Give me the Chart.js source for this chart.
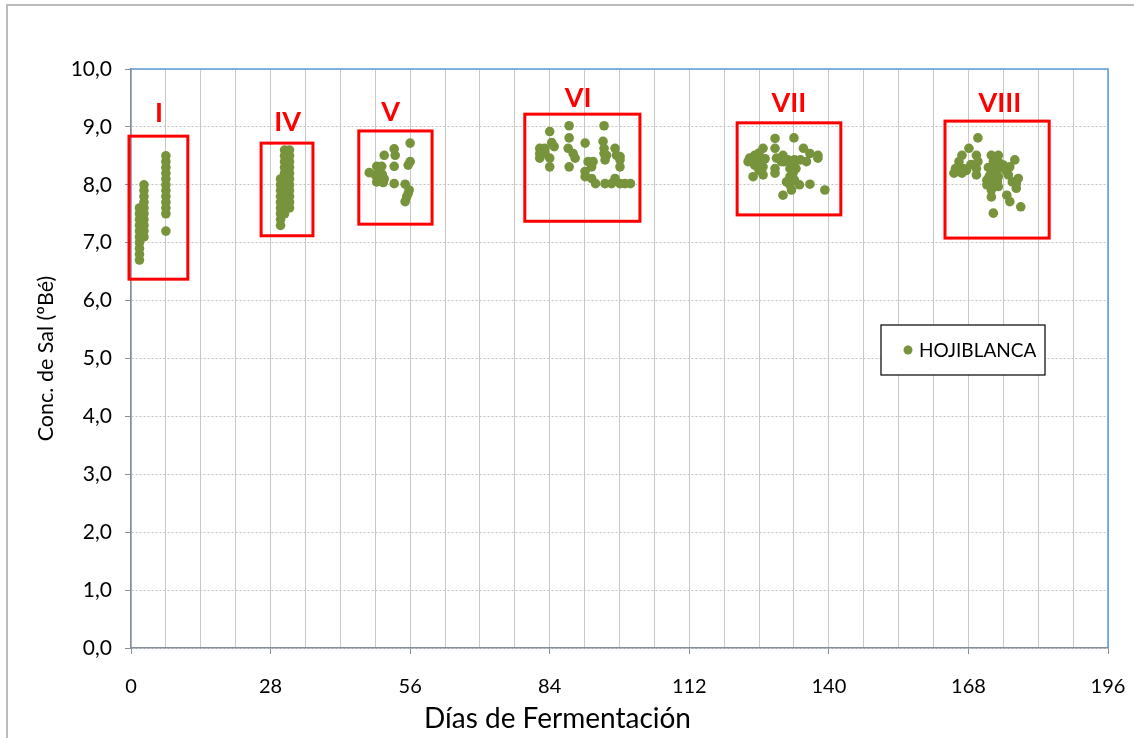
<!DOCTYPE html>
<html lang="es">
<head>
<meta charset="utf-8">
<title>Conc. de Sal - HOJIBLANCA</title>
<script src="https://cdn.jsdelivr.net/npm/chart.js@4.4.1/dist/chart.umd.min.js"></script>
<style>
  html, body { margin: 0; padding: 0; background: #ffffff; }
  #wrap { position: relative; width: 1134px; height: 738px; }
</style>
</head>
<body>
<div id="wrap"><canvas id="grafico" width="1134" height="738"></canvas></div>
<script>
// Concentración de sal (ºBé) frente a días de fermentación, por fase
const diasI = [1.7,1.7,1.7,1.7,1.7,1.7,1.7,1.7,1.7,1.7, 2.6,2.6,2.6,2.6,2.6,2.6,2.6,2.6,2.6,2.6, 7.0,7.0,7.0,7.0,7.0,7.0,7.0,7.0,7.0,7.0,7.0,7.0];
const salI  = [6.7,6.8,6.9,7.0,7.1,7.2,7.3,7.4,7.5,7.6, 7.1,7.2,7.3,7.4,7.5,7.6,7.7,7.8,7.9,8.0, 7.2,7.5,7.6,7.7,7.8,7.9,8.0,8.1,8.2,8.3,8.4,8.5];

const diasIV = [30.0,30.0,30.0,30.0,30.0,30.0,30.0,30.0,30.0, 30.8,30.8,30.8,30.8,30.8,30.8,30.8,30.8,30.8,30.8,30.8,30.8, 31.8,31.8,31.8,31.8,31.8,31.8,31.8,31.8,31.8,31.8,31.8];
const salIV  = [7.3,7.4,7.5,7.6,7.7,7.8,7.9,8.0,8.1, 7.5,7.6,7.7,7.8,7.9,8.0,8.1,8.2,8.3,8.4,8.5,8.6, 7.6,7.7,7.8,7.9,8.0,8.1,8.2,8.3,8.4,8.5,8.6];

const diasV = [56.0,50.8,52.8,53.0,56.0,55.6,52.8,49.3,50.3,47.8,49.0,50.0,49.3,50.6,52.8,55.0,55.8,55.6,55.3,55.0,49.8,50.4,50.8];
const salV  = [8.72,8.51,8.62,8.51,8.40,8.34,8.32,8.32,8.32,8.21,8.17,8.11,8.05,8.04,8.02,8.01,7.91,7.85,7.79,7.71,8.25,8.18,8.10];

const diasVI = [84.0,87.9,87.9,94.9,84.4,84.9,82.0,82.0,82.0,83.0,84.0,84.0,87.7,88.7,89.1,87.9,91.1,91.7,92.7,92.4,91.1,91.1,92.4,93.2,94.7,94.9,94.9,95.4,95.1,97.1,97.4,98.1,98.1,98.1,95.1,96.4,97.1,98.1,99.1,100.2,83.0];
const salVI  = [8.92,9.02,8.81,9.02,8.73,8.66,8.63,8.54,8.46,8.63,8.46,8.31,8.63,8.54,8.46,8.31,8.72,8.40,8.40,8.31,8.23,8.14,8.11,8.02,8.75,8.63,8.54,8.51,8.43,8.63,8.51,8.49,8.43,8.31,8.02,8.02,8.11,8.02,8.02,8.02,8.55];

const diasVII = [129.2,133.0,126.8,129.2,134.9,124.1,125.1,126.0,130.8,136.2,137.8,137.8,129.5,131.8,133.1,134.3,135.5,123.8,125.1,126.8,129.2,132.2,133.4,124.8,126.8,129.2,132.2,133.1,134.1,136.2,132.2,132.5,130.8,139.2,124.5,125.8,126.0,127.2,125.5,131.0,132.5,133.0,132.8,131.5,130.5];
const salVII  = [8.80,8.81,8.63,8.63,8.63,8.46,8.51,8.55,8.51,8.54,8.51,8.46,8.46,8.43,8.43,8.43,8.40,8.40,8.34,8.31,8.28,8.28,8.28,8.14,8.17,8.20,8.14,8.08,8.00,8.01,8.00,7.91,7.82,7.91,8.45,8.40,8.25,8.45,8.50,8.40,8.38,8.35,8.20,8.05,8.40];

const diasVIII = [169.9,168.1,166.7,166.1,165.4,165.1,166.7,167.6,169.6,169.9,169.6,169.6,172.6,174.0,173.0,174.3,173.0,174.0,172.6,174.0,171.7,173.0,171.7,174.0,172.6,172.6,177.3,176.3,176.0,178.0,177.6,177.6,175.7,176.3,178.5,173.0,175.0,165.8,167.0,168.5,172.0,173.5,172.2,173.8,176.8,175.5];
const salVIII  = [8.81,8.63,8.51,8.40,8.28,8.20,8.20,8.25,8.51,8.40,8.28,8.17,8.51,8.51,8.40,8.37,8.28,8.28,8.20,8.14,8.08,8.05,8.00,7.97,7.91,7.79,8.43,8.31,8.17,8.11,8.02,7.94,7.82,7.71,7.62,7.51,8.34,8.25,8.28,8.35,8.30,8.20,8.15,8.05,8.05,8.25];

// Recuadros de las fases (días y ºBé)
const fases       = ['I', 'IV', 'V', 'VI', 'VII', 'VIII'];
const faseDesde   = [-0.4, 26.1, 45.7, 79.0, 121.6, 163.3];
const faseHasta   = [11.4, 36.5, 60.4, 102.1, 142.4, 184.2];
const faseSup     = [8.84, 8.72, 8.93, 9.22, 9.07, 9.10];
const faseInf     = [6.37, 7.12, 7.32, 7.37, 7.48, 7.08];
const faseEtiqX   = [5.6, 31.4, 52.1, 89.7, 132.0, 174.3];
const faseEtiqY   = [9.24, 9.08, 9.25, 9.50, 9.40, 9.40];

const ticksY = [0,1,2,3,4,5,6,7,8,9,10];
const etiquetaSerie = 'HOJIBLANCA';
const tituloX = 'Días de Fermentación';

function puntos(dias, sal) { return dias.map((d, i) => ({ x: d, y: sal[i] })); }
const datos = [].concat(
  puntos(diasI, salI), puntos(diasIV, salIV), puntos(diasV, salV),
  puntos(diasVI, salVI), puntos(diasVII, salVII), puntos(diasVIII, salVIII)
);

const FUENTE = 'Lato, "Open Sans", sans-serif';
const VERDE = '#77933c';
const EJE = '#868e9c';
const AZUL = '#5b9bd5';
const MARCO_X = 7, MARCO_Y = 5;

const marcos = {
  id: 'marcos',
  beforeDraw(chart) {
    const ctx = chart.ctx;
    ctx.save();
    ctx.fillStyle = '#ffffff';
    ctx.fillRect(0, 0, chart.width, chart.height);
    ctx.strokeStyle = '#a6a6a6';
    ctx.lineWidth = 1.5;
    ctx.beginPath();
    ctx.moveTo(MARCO_X, chart.height);
    ctx.lineTo(MARCO_X, MARCO_Y);
    ctx.lineTo(chart.width, MARCO_Y);
    ctx.stroke();
    ctx.restore();
  },
  afterDraw(chart) {
    const { ctx, chartArea: a } = chart;
    // título del eje X, centrado en el marco del gráfico
    ctx.save();
    ctx.fillStyle = '#000000';
    ctx.font = '28px ' + FUENTE;
    ctx.textAlign = 'center';
    ctx.textBaseline = 'middle';
    ctx.fillText(tituloX, (MARCO_X + a.right) / 2, 719);
    ctx.restore();
  },
  afterDatasetsDraw(chart) {
    const { ctx, chartArea: a, scales: { x, y } } = chart;
    ctx.save();
    // borde superior y derecho del área de trazado
    ctx.strokeStyle = AZUL;
    ctx.lineWidth = 1.5;
    ctx.beginPath();
    ctx.moveTo(a.left, a.top);
    ctx.lineTo(a.right, a.top);
    ctx.lineTo(a.right, a.bottom);
    ctx.stroke();

    // recuadros rojos de cada fase
    ctx.strokeStyle = '#ff0000';
    ctx.lineWidth = 3;
    ctx.fillStyle = '#ff0000';
    ctx.font = 'bold 27px ' + FUENTE;
    ctx.textAlign = 'center';
    ctx.textBaseline = 'middle';
    fases.forEach((nombre, i) => {
      const x1 = x.getPixelForValue(faseDesde[i]);
      const x2 = x.getPixelForValue(faseHasta[i]);
      const y1 = y.getPixelForValue(faseSup[i]);
      const y2 = y.getPixelForValue(faseInf[i]);
      ctx.strokeRect(x1, y1, x2 - x1, y2 - y1);
      ctx.fillText(nombre, x.getPixelForValue(faseEtiqX[i]), y.getPixelForValue(faseEtiqY[i]));
    });

    // leyenda
    const lx = a.left + 750, ly = a.top + 256, lw = 164, lh = 50;
    ctx.fillStyle = '#ffffff';
    ctx.fillRect(lx, ly, lw, lh);
    ctx.strokeStyle = '#000000';
    ctx.lineWidth = 1.2;
    ctx.strokeRect(lx, ly, lw, lh);
    ctx.fillStyle = VERDE;
    ctx.beginPath();
    ctx.arc(lx + 27, ly + 25, 4.5, 0, Math.PI * 2);
    ctx.fill();
    ctx.fillStyle = '#000000';
    ctx.font = '19px ' + FUENTE;
    ctx.textAlign = 'left';
    ctx.fillText(chart.data.datasets[0].label, lx + 38, ly + 26);
    ctx.restore();
  }
};

new Chart(document.getElementById('grafico'), {
  type: 'scatter',
  data: {
    datasets: [{
      label: etiquetaSerie,
      data: datos,
      backgroundColor: VERDE,
      borderColor: VERDE,
      borderWidth: 0,
      pointRadius: 4.8,
      pointHoverRadius: 4.8
    }]
  },
  options: {
    responsive: false,
    animation: false,
    devicePixelRatio: 1,
    layout: { padding: { top: 69, right: 26, left: 0, bottom: 0 } },
    plugins: { legend: { display: false }, tooltip: { enabled: false } },
    scales: {
      x: {
        type: 'linear',
        min: 0, max: 196,
        afterFit(s) { s.height = 90; s.paddingLeft = 0; s.paddingRight = 0; },
        afterBuildTicks(s) {
          const t = [];
          for (let v = 0; v <= 196; v += 7) t.push({ value: v });
          s.ticks = t;
        },
        ticks: {
          autoSkip: false, maxRotation: 0, padding: 21,
          color: '#000000',
          font: { family: FUENTE, size: 20 },
          callback: (v) => (v % 28 === 0 ? String(v) : '')
        },
        grid: {
          color: '#c8c8c8', lineWidth: 1,
          tickLength: 6,
          tickColor: (c) => (c.tick && c.tick.value % 28 === 0 ? EJE : 'rgba(0,0,0,0)')
        },
        border: { color: EJE, width: 1.5 },
        title: { display: false }
      },
      y: {
        type: 'linear',
        min: 0, max: 10,
        afterFit(s) { s.width = 131; s.paddingTop = 0; s.paddingBottom = 0; },
        afterBuildTicks(s) { s.ticks = ticksY.map(v => ({ value: v })); },
        ticks: {
          padding: 13,
          color: '#000000',
          font: { family: FUENTE, size: 21 },
          callback: (v) => v.toFixed(1).replace('.', ',')
        },
        grid: { color: '#c0c0c0', lineWidth: 1, tickLength: 6, tickColor: EJE },
        border: { color: EJE, width: 1.5, dash: [2, 2] },
        title: {
          display: true, text: 'Conc. de Sal (ºBé)',
          color: '#000000',
          font: { family: FUENTE, size: 21.5 },
          padding: { top: 33, bottom: 0 }
        }
      }
    }
  },
  plugins: [marcos]
});
</script>
</body>
</html>
